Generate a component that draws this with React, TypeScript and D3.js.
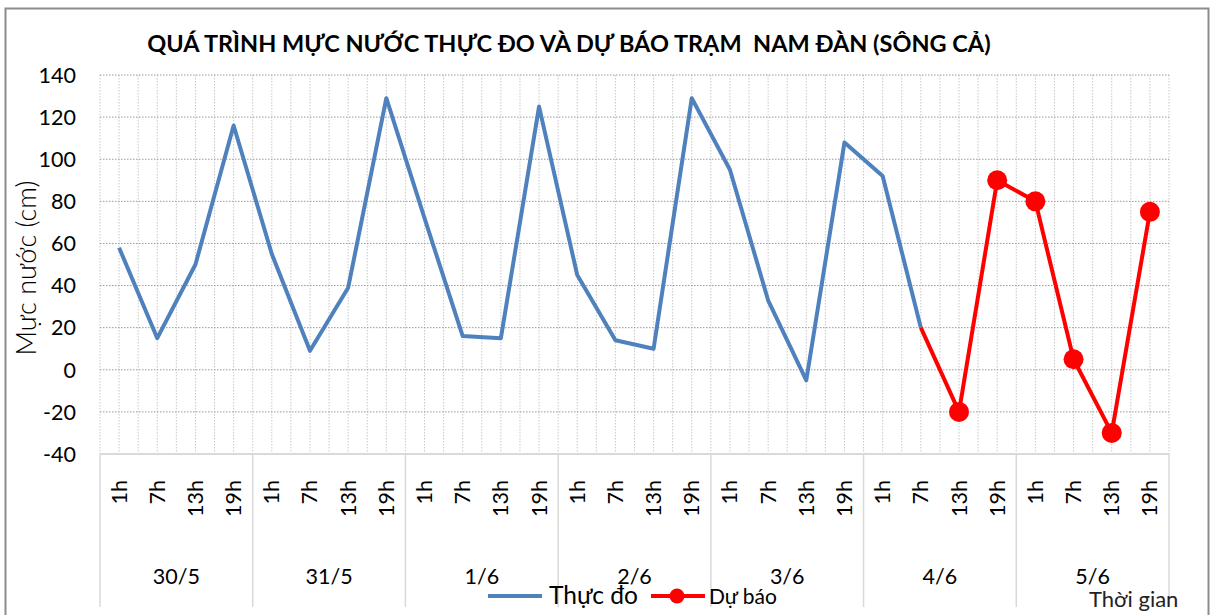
import React from "react";
import * as d3 from "d3";

const days = ["30/5", "31/5", "1/6", "2/6", "3/6", "4/6", "5/6"];
const hours = ["1h", "7h", "13h", "19h"];
// Thực đo (observed), one value per 6-hour slot
const observed: (number | null)[] = [
  58, 15, 50, 116,
  55, 9, 39, 129,
  72, 16, 15, 125,
  45, 14, 10, 129,
  95, 33, -5, 108,
  92, 20, null, null,
  null, null, null, null,
];
// Dự báo (forecast)
const forecast: (number | null)[] = [
  null, null, null, null,
  null, null, null, null,
  null, null, null, null,
  null, null, null, null,
  null, null, null, null,
  null, 20, -20, 90,
  80, 5, -30, 75,
];
const yTicks = [-40, -20, 0, 20, 40, 60, 80, 100, 120, 140];

const title = "QUÁ TRÌNH MỰC NƯỚC THỰC ĐO VÀ DỰ BÁO TRẠM  NAM ĐÀN (SÔNG CẢ)";
const yTitle = "Mực nước (cm)";
const xTitle = "Thời gian";
const legendObserved = "Thực đo";
const legendForecast = "Dự báo";

const W = 1211;
const H = 615;
const FONT = "Lato, 'Open Sans', sans-serif";

export default function App() {
  const left = 100, right = 1169, top = 75, bottom = 454;
  const slots = days.flatMap((d) => hours.map((h) => `${d}|${h}`));
  const x = d3.scaleBand<string>().domain(slots).range([left, right]).padding(0);
  const y = d3.scaleLinear().domain([-40, 140]).range([bottom, top]);
  const cx = (i: number) => (x(slots[i]) as number) + x.bandwidth() / 2;

  const line = d3
    .line<number | null>()
    .defined((d) => d !== null)
    .x((_, i) => cx(i))
    .y((d) => y(d as number));

  const bw = x.bandwidth();
  const vGrid: number[] = [];
  for (let i = 0; i <= slots.length * 2; i++) vGrid.push(left + (i * bw) / 2);

  const dayW = bw * hours.length;

  return (
    <svg
      width={W}
      height={H}
      style={{ position: "absolute", left: 0, top: 0, background: "#fff" }}
      fontFamily={FONT}
    >
      <rect x={0} y={0} width={W} height={H} fill="#fff" />
      <rect x={5.5} y={8.5} width={1203} height={620} fill="#fff" stroke="#8c8c8c" strokeWidth={2} />

      <text x={569} y={52} textAnchor="middle" fontWeight="bold" fontSize={23.5} fill="#000" style={{ whiteSpace: "pre" }}>
        {title}
      </text>

      {/* vertical dotted grid */}
      {vGrid.map((gx, i) => (
        <line key={"v" + i} x1={gx} x2={gx} y1={top} y2={bottom} stroke="#c8c8c8" strokeWidth={1} strokeDasharray="1.5,1.5" />
      ))}
      {/* horizontal grid */}
      {yTicks.map((t) => (
        <line key={"h" + t} x1={left} x2={right} y1={y(t)} y2={y(t)} stroke="#9a9a9a" strokeWidth={1} strokeDasharray="1.5,1.5" />
      ))}

      {/* x axis */}
      <line x1={left} x2={right} y1={bottom} y2={bottom} stroke="#d9d9d9" strokeWidth={2} />
      {d3.range(days.length + 1).map((i) => (
        <line key={"sep" + i} x1={left + i * dayW} x2={left + i * dayW} y1={bottom} y2={607} stroke="#d9d9d9" strokeWidth={1.5} />
      ))}

      {/* y tick labels */}
      {yTicks.map((t) => (
        <text key={"yt" + t} x={76} y={y(t)} dy="0.36em" textAnchor="end" fontSize={21.5} fill="#000">
          {t}
        </text>
      ))}

      {/* hour labels */}
      {slots.map((s, i) => (
        <text
          key={"hl" + i}
          transform={`translate(${cx(i) + 7.5},480) rotate(-90)`}
          textAnchor="end"
          fontSize={21.5}
          fill="#000"
        >
          {s.split("|")[1]}
        </text>
      ))}
      {/* day labels */}
      {days.map((d, i) => (
        <text key={"dl" + d} x={left + (i + 0.5) * dayW} y={584} textAnchor="middle" fontSize={21.5} fill="#000">
          {d}
        </text>
      ))}

      {/* y title */}
      <text transform="translate(36,268) rotate(-90)" textAnchor="middle" fontSize={27} fontWeight={300} fill="#000">
        {yTitle}
      </text>

      {/* series */}
      <path d={line(observed) || ""} fill="none" stroke="#4F81BD" strokeWidth={4} strokeLinejoin="round" />
      <path d={line(forecast) || ""} fill="none" stroke="#FF0000" strokeWidth={4} strokeLinejoin="round" />
      {forecast.map((v, i) =>
        v !== null && observed[i] === null ? (
          <circle key={"m" + i} cx={cx(i)} cy={y(v)} r={10} fill="#FF0000" />
        ) : null
      )}

      {/* legend */}
      <line x1={488} x2={542} y1={596} y2={596} stroke="#4F81BD" strokeWidth={4} />
      <text x={549} y={604} fontSize={24.5} fill="#000">{legendObserved}</text>
      <line x1={651} x2={705} y1={596} y2={596} stroke="#FF0000" strokeWidth={4} />
      <circle cx={677} cy={596} r={7.5} fill="#FF0000" />
      <text x={709} y={604} fontSize={21} fill="#000">{legendForecast}</text>

      <text x={1089} y={607} fontSize={22} fill="#222">{xTitle}</text>
    </svg>
  );
}
